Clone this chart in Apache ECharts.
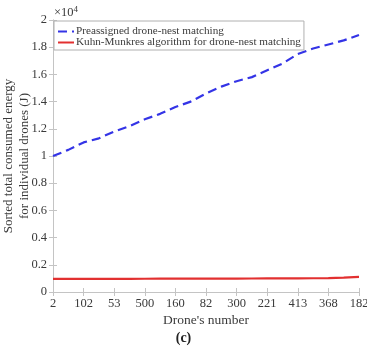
<!DOCTYPE html>
<html><head><meta charset="utf-8">
<script src="https://cdn.jsdelivr.net/npm/echarts@6/dist/echarts.min.js"></script>
<style>html,body{margin:0;padding:0;background:#fff}#c{width:367px;height:348px}</style>
</head><body><div id="c"></div>
<script>
// drone rank (sorted order) positions of read points
var ranks = [0,25,50,75,100,125,150,175,200,225,250,275,300,325,350,375,400,425,450,475,500];
// Preassigned drone-nest matching energy (J)
var preassigned = [10000,10450,11000,11300,11800,12200,12700,13100,13600,14000,14600,15100,15500,15800,16300,16800,17500,17900,18200,18500,18900];
// Kuhn-Munkres matching energy (J)
var kuhnMunkres = [960,962,965,968,970,972,975,978,980,983,985,988,990,993,996,1000,1005,1012,1025,1050,1110];
// x tick labels (drone IDs)
var xTickLabels = ['2','102','53','500','160','82','300','221','413','368','182'];
var seriesNames = ['Preassigned drone-nest matching','Kuhn-Munkres algorithm for drone-nest matching'];

function pairs(ys){return ranks.map(function(r,i){return [r,ys[i]];});}
var font = 'Liberation Serif';
var axisCol = '#c4c4c4';
var txt = '#3a3a3a';

var chart = echarts.init(document.getElementById('c'));
chart.setOption({
  animation:false,
  grid:{left:53,right:8,top:20,bottom:56,outerBoundsMode:'none',containLabel:false},
  legend:{
    left:54, top:21, orient:'vertical', itemGap:0, itemWidth:16, itemHeight:4,
    padding:[5,3,2,3], backgroundColor:'#fff', borderColor:'#b0b0b0', borderWidth:1,
    itemStyle:{opacity:0},
    textStyle:{fontFamily:font,fontSize:11.2,color:txt,lineHeight:11,padding:[0,0,0,-3]},
    data:seriesNames
  },
  xAxis:[{
    type:'value', min:0, max:500, interval:50,
    axisLine:{lineStyle:{color:axisCol}},
    axisTick:{inside:true,length:4,lineStyle:{color:axisCol}},
    splitLine:{show:false},
    axisLabel:{fontFamily:font,fontSize:12.5,color:txt,margin:5,hideOverlap:false,
      formatter:function(v){return xTickLabels[Math.round(v/50)];}},
    name:"Drone's number", nameLocation:'middle', nameGap:21, nameMoveOverlap:false,
    nameTextStyle:{fontFamily:font,fontSize:13.5,color:txt}
  },{
    type:'value', min:0, max:500, interval:50, position:'top',
    axisLine:{show:true,lineStyle:{color:axisCol}},
    axisTick:{inside:true,length:4,lineStyle:{color:axisCol}},
    axisLabel:{show:false}, splitLine:{show:false}
  }],
  yAxis:[{
    type:'value', min:0, max:20000, interval:2000,
    axisLine:{show:true,lineStyle:{color:axisCol}},
    axisTick:{show:true,inside:true,length:4,lineStyle:{color:axisCol}},
    splitLine:{show:false},
    axisLabel:{fontFamily:font,fontSize:12.5,color:txt,margin:6,hideOverlap:false,
      formatter:function(v){return String(+(v/10000).toFixed(1));}},
    name:'Sorted total consumed energy\nfor individual drones (J)',
    nameLocation:'middle', nameGap:20, nameRotate:90, nameMoveOverlap:false,
    nameTextStyle:{fontFamily:font,fontSize:13,color:txt,lineHeight:16}
  },{
    type:'value', min:0, max:20000, interval:2000, position:'right',
    axisLine:{show:true,lineStyle:{color:axisCol}},
    axisTick:{show:true,inside:true,length:4,lineStyle:{color:axisCol}},
    axisLabel:{show:false}, splitLine:{show:false}
  }],
  series:[{
    name:seriesNames[0], type:'line', data:pairs(preassigned), showSymbol:false, symbol:'none',
    lineStyle:{color:'#3434e6',width:2.2,type:[9,5]}, itemStyle:{color:'#3434e6'}, z:3
  },{
    name:seriesNames[1], type:'line', data:pairs(kuhnMunkres), showSymbol:false, symbol:'none',
    lineStyle:{color:'#e23030',width:2.2}, itemStyle:{color:'#e23030'}, z:3
  }],
  graphic:[{
    type:'text', left:54, top:5,
    style:{text:'{a|×10}{b|4}', rich:{a:{fontFamily:font,fontSize:12.5,fill:txt},b:{fontFamily:font,fontSize:9,fill:txt,verticalAlign:'top',padding:[0,0,6,0]}}}
  },{
    type:'text', left:'center', top:331,
    style:{text:'(c)', fontFamily:font, fontSize:14, fontWeight:'bold', fill:'#222'}
  }]
});
</script></body></html>
